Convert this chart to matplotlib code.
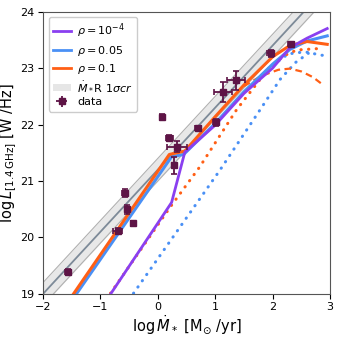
import numpy as np
import matplotlib
matplotlib.use("Agg")
import matplotlib.pyplot as plt
from matplotlib.patches import Patch
from matplotlib.lines import Line2D

# --- data ---
data_x = [-1.57, -0.70, -0.575, -0.53, -0.43, 0.08, 0.20, 0.33, 0.28, 0.70, 1.01, 1.14, 1.36, 1.97, 2.32]
data_y = [19.39, 20.12, 20.78, 20.50, 20.25, 22.13, 21.76, 21.61, 21.28, 21.93, 22.04, 22.58, 22.78, 23.26, 23.42]
data_xerr = [0.05, 0.08, 0.04, 0.04, 0.04, 0.03, 0.06, 0.17, 0.03, 0.06, 0.05, 0.16, 0.16, 0.06, 0.06]
data_yerr = [0.05, 0.05, 0.07, 0.08, 0.04, 0.05, 0.05, 0.09, 0.15, 0.05, 0.06, 0.18, 0.16, 0.06, 0.05]

# relation band (center line y = a + b x, half width)
band_a, band_b, band_sig = 21.2, 1.1, 0.2
band_x = [-2.0, 3.0]

purple_x = [-0.9, 0.24, 0.47, 1.0, 1.5, 2.0, 2.3, 2.6, 2.95]
purple_y = [18.88, 20.62, 21.51, 21.99, 22.55, 23.0, 23.36, 23.53, 23.70]

blue_x = [-1.5, 0.24, 0.45, 1.0, 1.5, 2.0, 2.3, 2.6, 2.95]
blue_y = [18.88, 21.43, 21.47, 22.02, 22.58, 23.07, 23.33, 23.48, 23.57]

orange_x = [-1.55, 0.2, 0.47, 1.0, 1.5, 2.0, 2.3, 2.6, 2.95]
orange_y = [18.88, 21.47, 21.53, 22.14, 22.70, 23.2, 23.4, 23.47, 23.42]

orange_dot_x = [-0.9, 0.21, 0.73, 1.37, 1.95, 2.2, 2.42, 2.87]
orange_dot_y = [18.9, 20.53, 21.25, 22.26, 23.02, 23.22, 23.32, 23.35]

blue_dot_x = [-0.5, 1.08, 1.78, 2.13, 2.4, 2.62]
blue_dot_y = [18.9, 21.19, 22.26, 22.8, 23.1, 23.26]

blue_dot2_x = [2.0, 2.27, 2.5, 2.62, 2.82, 2.95]
blue_dot2_y = [23.05, 23.25, 23.28, 23.28, 23.23, 23.22]

orange_dash_x = [1.5, 1.8, 2.1, 2.3, 2.5, 2.7, 2.88]
orange_dash_y = [22.68, 22.86, 22.97, 22.99, 22.94, 22.84, 22.7]

c_purple = '#8a3ff0'
c_blue = '#4a90f5'
c_orange = '#ff5f15'
c_data = '#5e1446'

fig = plt.figure(figsize=(3.41, 3.41), dpi=100)
ax = fig.add_axes([0.126, 0.138, 0.842, 0.828])

bx = np.array(band_x)
bc = band_a + band_b * bx
ax.fill_between(bx, bc - band_sig, bc + band_sig, color='#d9d9d9', alpha=0.6, lw=0, zorder=1)
ax.plot(bx, bc - band_sig, color='#b0b0b0', lw=0.8, zorder=1)
ax.plot(bx, bc + band_sig, color='#b0b0b0', lw=0.8, zorder=1)
ax.plot(bx, bc, color='#7d8a98', lw=1.3, zorder=1.5)

dot = (0, (0.1, 2.4))
ax.plot(blue_dot_x, blue_dot_y, ls=dot, dash_capstyle='round', color=c_blue, lw=2.2, zorder=2)
ax.plot(blue_dot2_x, blue_dot2_y, ls=dot, dash_capstyle='round', color=c_blue, lw=2.2, zorder=2)
ax.plot(orange_dot_x, orange_dot_y, ls=dot, dash_capstyle='round', color=c_orange, lw=2.2, zorder=2)
ax.plot(orange_dash_x, orange_dash_y, ls=(0, (3, 2)), color=c_orange, lw=1.6, zorder=2)

ax.plot(blue_x, blue_y, color=c_blue, lw=2.2, zorder=3)
ax.plot(orange_x, orange_y, color=c_orange, lw=2.2, zorder=3.2)
ax.plot(purple_x, purple_y, color=c_purple, lw=2.0, zorder=3.5)

ax.errorbar(data_x, data_y, xerr=data_xerr, yerr=data_yerr, fmt='s', ms=4.5,
            color=c_data, ecolor=c_data, elinewidth=1.3, capsize=2.2, capthick=1.2, zorder=5)

ax.set_xlim(-2, 3)
ax.set_ylim(19, 24)
ax.set_xticks([-2, -1, 0, 1, 2, 3])
ax.set_yticks([19, 20, 21, 22, 23, 24])
ax.tick_params(labelsize=8, length=3.5, pad=2.5)
for s in ax.spines.values():
    s.set_color('#555555')

ax.set_xlabel(r'$\log\dot{M}_*$ [M$_{\odot}$ /yr]', fontsize=10.5, labelpad=1)
ax.set_ylabel(r'$\log L_{[1.4\,\mathrm{GHz}]}$ [W /Hz]', fontsize=10.5, labelpad=1)

handles = [
    Line2D([], [], color=c_purple, lw=2),
    Line2D([], [], color=c_blue, lw=2),
    Line2D([], [], color=c_orange, lw=2),
    Patch(facecolor='#e6e6e6', edgecolor='none'),
]
eb = ax.errorbar([], [], xerr=[], yerr=[], fmt='s', ms=4.5, color=c_data, elinewidth=1.3, capsize=2.2)
handles.append(eb)
labels = [r'$\rho=10^{-4}$', r'$\rho=0.05$', r'$\rho=0.1$', r'$\dot{M}_*$R 1$\sigma cr$', 'data']
ax.legend(handles, labels, loc='upper left', fontsize=8, handlelength=1.6, handletextpad=0.6,
          labelspacing=0.35, borderpad=0.4, framealpha=1.0)

fig.savefig('out.png', dpi=100)
